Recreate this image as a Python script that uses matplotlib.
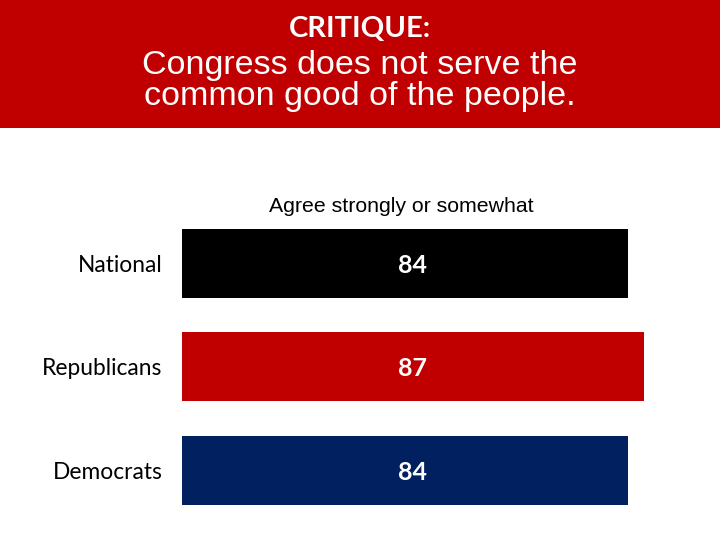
import matplotlib.pyplot as plt
from matplotlib.patches import Rectangle

# Datos del gráfico
categorias = ["National", "Republicans", "Democrats"]
valores = [84, 87, 84]
colores = ["#000000", "#C00000", "#002060"]
titulo_1 = "CRITIQUE:"
titulo_2 = "Congress does not serve the\ncommon good of the people."
subtitulo = "Agree strongly or somewhat"

fig = plt.figure(figsize=(7.2, 5.4), dpi=100)

# Banda roja superior
fig.patches.append(Rectangle((0, 1 - 128 / 540), 1, 128 / 540, transform=fig.transFigure,
                             facecolor="#C00000", edgecolor="none", zorder=0))
fig.text(0.5, 1 - 29 / 540, titulo_1, ha="center", va="center", color="white",
         fontsize=21, family="Lato", fontweight="bold")
fig.text(0.5, 1 - 81 / 540, titulo_2, ha="center", va="center", color="white",
         fontsize=24.5, family="Liberation Sans", linespacing=1.0)

ax = fig.add_axes([182 / 720, 1 - 521.8 / 540, 531 / 720, 310 / 540])
pos = list(range(len(categorias)))
ax.barh(pos, valores, height=0.668, color=colores)
ax.set_xlim(0, 100)
ax.set_ylim(2.5, -0.5)

x_etiqueta = max(valores) / 2
for p, v in zip(pos, valores):
    ax.text(x_etiqueta, p + 0.02, str(v), ha="center", va="center", color="white",
            fontsize=18, family="Lato", fontweight="bold")

ax.set_yticks(pos)
ax.set_yticklabels(categorias, family="Lato", fontsize=16.4)
ax.tick_params(axis="y", length=0, pad=14)
ax.set_xticks([])
for s in ax.spines.values():
    s.set_visible(False)

fig.text(401 / 720, 1 - 206 / 540, subtitulo, ha="center", va="center",
         fontsize=15.3, family="Liberation Sans")

fig.savefig("out.png", dpi=100)
